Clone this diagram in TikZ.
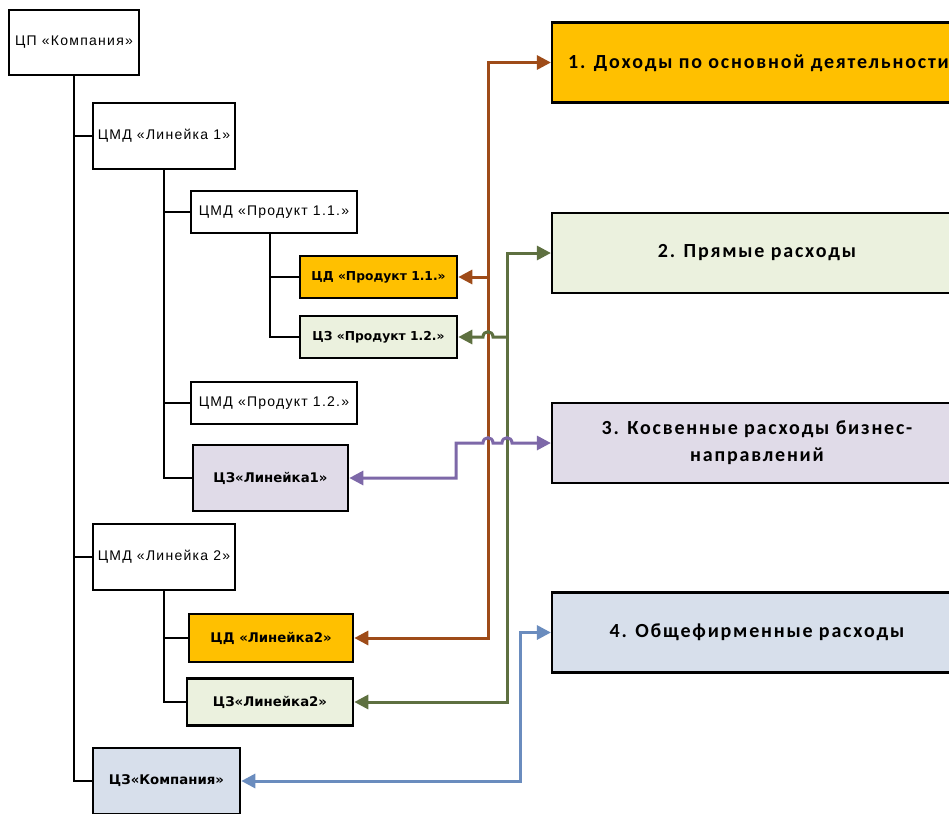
\documentclass[tikz,border=0pt]{standalone}
\usepackage{fontspec}
\usetikzlibrary{arrows.meta}
\newfontfamily\arialf[LetterSpace=9]{Liberation Sans}
\newfontfamily\verdf{DejaVu Sans}
\newfontfamily\calibf[LetterSpace=9]{Carlito}
\definecolor{orng}{HTML}{FFC000}
\definecolor{lgreen}{HTML}{EBF1DE}
\definecolor{lav}{HTML}{E0DBE8}
\definecolor{lblue}{HTML}{D7DFEB}
\definecolor{brn}{HTML}{9E4B18}
\definecolor{grn}{HTML}{5E7040}
\definecolor{prp}{HTML}{7D68A8}
\definecolor{blu}{HTML}{6A8CBE}
\tikzset{
  cmd/.style={draw=black, line width=2.6pt, fill=white, inner sep=0pt, font=\arialf\fontsize{14}{16}\selectfont},
  cbox/.style={draw=black, line width=2.6pt, inner sep=0pt, font=\verdf\bfseries\fontsize{12.3}{14}\selectfont},
  cboxl/.style={draw=black, line width=2.6pt, inner sep=0pt, font=\verdf\bfseries\fontsize{13.3}{15}\selectfont},
  bigbox/.style={draw=black, line width=2.2pt, inner sep=0pt, minimum width=410pt, minimum height=80pt, align=center, font=\calibf\bfseries\fontsize{20}{27}\selectfont},
  tree/.style={draw=black, line width=2.4pt},
  conn/.style={line width=3pt, {Triangle[length=14pt,width=14pt]}-{Triangle[length=14pt,width=14pt]}},
  conn1/.style={line width=3pt, -{Triangle[length=14pt,width=14pt]}}
}
\begin{document}
\begin{tikzpicture}[x=1pt,y=-1pt]
\clip (0,0) rectangle (949,813);
\fill[white] (0,0) rectangle (949,813);
% left tree nodes
\node[cmd, minimum width=130pt, minimum height=65pt] (root) at (74,42.5) {ЦП «Компания»};
\node[cmd, minimum width=142pt, minimum height=66pt] (l1) at (164,136) {ЦМД «Линейка 1»};
\node[cmd, minimum width=166pt, minimum height=42pt] (p11) at (274,212) {ЦМД «Продукт 1.1.»};
\node[cbox, fill=orng, minimum width=157pt, minimum height=42pt] (cd11) at (378.5,277) {ЦД «Продукт 1.1.»};
\node[cbox, fill=lgreen, minimum width=157pt, minimum height=42pt] (cz12) at (378.5,337) {ЦЗ «Продукт 1.2.»};
\node[cmd, minimum width=166pt, minimum height=42pt] (p12) at (274,403) {ЦМД «Продукт 1.2.»};
\node[cboxl, fill=lav, minimum width=155pt, minimum height=66pt] (czl1) at (270.5,478) {ЦЗ«Линейка1»};
\node[cmd, minimum width=142pt, minimum height=66pt] (l2) at (164,557) {ЦМД «Линейка 2»};
\node[cboxl, fill=orng, minimum width=164pt, minimum height=48pt] (cdl2) at (271,638) {ЦД «Линейка2»};
\node[cboxl, fill=lgreen, minimum width=166pt, minimum height=47pt] (czl2) at (270,702) {ЦЗ«Линейка2»};
\node[cboxl, fill=lblue, minimum width=147pt, minimum height=66pt] (czk) at (166.5,781) {ЦЗ«Компания»};
% right boxes
\node[bigbox, fill=orng] (b1) at (757,62.5) {};
\node[anchor=west, inner sep=0pt, font=\calibf\bfseries\fontsize{20}{27}\selectfont] (t1) at (568,63) {1. Доходы по основной деятельности};
\node[bigbox, fill=lgreen] (b2) at (757,253) {2. Прямые расходы};
\node[bigbox, fill=lav] (b3) at (757,443) {3. Косвенные расходы бизнес-\\направлений};
\node[bigbox, fill=lblue] (b4) at (757,632.5) {4. Общефирменные расходы};
% tree lines: one trunk per parent, then single branches
\coordinate (p11S) at ([xshift=-4pt]p11.south);
\draw[tree] (root.south) |- (czk.west);
\draw[tree] (root.south |- l1.west) -- (l1.west);
\draw[tree] (root.south |- l2.west) -- (l2.west);
\draw[tree] (l1.south) |- (czl1.west);
\draw[tree] (l1.south |- p11.west) -- (p11.west);
\draw[tree] (l1.south |- p12.west) -- (p12.west);
\draw[tree] (p11S) |- (cz12.west);
\draw[tree] (p11S |- cd11.west) -- (cd11.west);
\draw[tree] (l2.south) |- (czl2.west);
\draw[tree] (l2.south |- cdl2.west) -- (cdl2.west);
% coordinates for connector routes
\coordinate (bx) at (488,300);
\coordinate (gx) at (507,300);
\coordinate (px) at (456,460);
\coordinate (ux) at (520,700);
% brown
\draw[conn, brn] (b1.west) -| (bx) |- (cdl2.east);
\draw[conn1, brn] (cd11.east -| bx) -- (cd11.east);
% green
\draw[conn, grn] (b2.west) -| (gx) |- (czl2.east);
\draw[conn1, grn] (cz12.east -| gx) -- (cz12.east -| 493,0) .. controls (493,330) and (483,330) .. (cz12.east -| 483,0) -- (cz12.east);
% purple
\draw[conn, prp] (czl1.east) -| (px) |- (b3.west -| 483,0) .. controls (483,436) and (493,436) .. (b3.west -| 493,0) -- (b3.west -| 502,0) .. controls (502,436) and (512,436) .. (b3.west -| 512,0) -- (b3.west);
% blue
\draw[conn, blu] (czk.east) -| (ux) |- (b4.west);
\end{tikzpicture}
\end{document}
